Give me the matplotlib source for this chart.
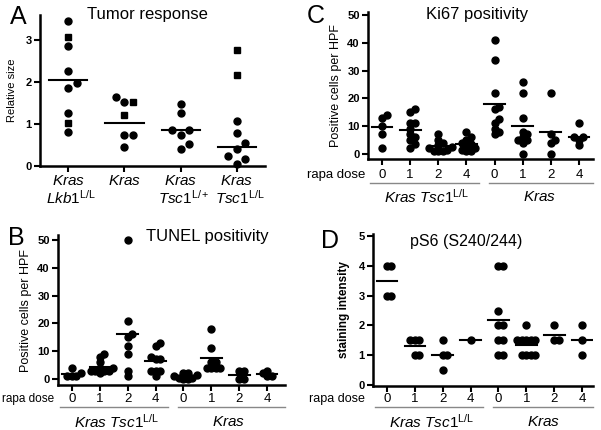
import matplotlib.pyplot as plt
import numpy as np
from matplotlib import transforms as mtrans

plt.rcParams.update({
    'font.family': 'Liberation Sans',
    'mathtext.fontset': 'custom',
    'mathtext.rm': 'Liberation Sans',
    'mathtext.it': 'Liberation Sans:italic',
    'mathtext.bf': 'Liberation Sans:bold',
})

# ---- A: tumor response (relative size), circles and squares per genotype
a_circles = [
    [3.45, 2.87, 2.26, 1.97, 1.85, 1.27, 0.82],
    [1.65, 1.52, 0.74, 0.74, 0.46],
    [1.48, 1.27, 0.87, 0.87, 0.75, 0.52, 0.40],
    [1.07, 0.79, 0.56, 0.40, 0.24, 0.16, 0.05],
]
a_squares = [
    [3.08, 1.03],
    [1.53, 1.21],
    [],
    [2.76, 2.17],
]
a_means = [2.06, 1.02, 0.87, 0.46]

doses = ["0", "1", "2", "4"]

# ---- B: TUNEL positivity (Kras Tsc1 L/L doses 0,1,2,4 then Kras doses 0,1,2,4)
tunel = [
    [4, 2, 1, 1, 1],
    [9, 8, 6, 4, 4, 3, 3, 3, 3, 2],
    [50, 21, 16, 15, 12, 9, 3, 1],
    [13, 12, 8, 7, 7, 3, 3, 3, 1],
    [2, 2, 1.5, 1, 0.5, 0.5, 0, 0],
    [18, 11, 6, 6, 4, 4, 4, 4],
    [3, 3, 0, 0],
    [3, 2, 1, 1],
]
tunel_means = [1.8, 4.4, 16.0, 6.6, 0.8, 7.4, 1.4, 1.8]

# ---- C: Ki67 positivity
ki67 = [
    [14, 13, 10, 7, 2],
    [16, 15, 11, 11, 9, 7, 6, 5, 3.5, 2],
    [7, 5, 4, 3, 2.5, 2, 1.5, 1, 1, 1],
    [8, 6, 5, 4, 3.5, 3, 2, 1.5, 1, 1],
    [41, 34, 22, 17, 16, 12.5, 11, 9, 8, 7],
    [26, 22, 13, 8, 7, 6, 5, 5, 4, 0],
    [22, 7, 5, 4, 0],
    [11, 6, 6, 5, 3],
]
ki67_means = [9.5, 8.6, 2.9, 3.6, 17.9, 10.1, 7.7, 6.2]

# ---- D: pS6 (S240/244) staining intensity
ps6 = [
    [4, 4, 3, 3],
    [1.5, 1.5, 1.5, 1, 1],
    [1.5, 1, 1, 0.5],
    [1.5],
    [4, 4, 2.5, 2, 2, 1.5, 1.5, 1, 1],
    [2, 1.5, 1.5, 1.5, 1.5, 1.5, 1, 1, 1, 1],
    [2, 1.5, 1.5],
    [2, 1.5, 1],
]
ps6_means = [3.5, 1.3, 1.0, 1.5, 2.17, 1.36, 1.67, 1.5]

W, H = 601, 430
fig = plt.figure(figsize=(W / 100, H / 100), dpi=100)


def add_ax(l, t, r, b):
    return fig.add_axes([l / W, 1 - b / H, (r - l) / W, (b - t) / H])


def ftext(x, y, s, **kw):
    kw.setdefault('ha', 'center')
    kw.setdefault('va', 'center')
    fig.text(x / W, 1 - y / H, s, **kw)


def style(ax, yticks, size=8):
    for s in ['top', 'right']:
        ax.spines[s].set_visible(False)
    for s in ['left', 'bottom']:
        ax.spines[s].set_linewidth(1.8)
    ax.tick_params(direction='out', length=4, width=1.5, labelsize=size, pad=2)
    ax.set_yticks(yticks)
    ax.set_yticklabels([str(v) for v in yticks], fontweight='bold')


def swarm(ax, x0, vals, step, mind):
    # simple beeswarm in pixel space so equal values sit side by side
    vals = np.asarray(vals, dtype=float)
    if len(vals) == 0:
        return vals
    ypx = ax.transData.transform(np.column_stack([np.zeros(len(vals)), vals]))[:, 1]
    xpx_unit = ax.transData.transform([(1, 0)])[0, 0] - ax.transData.transform([(0, 0)])[0, 0]
    offs = np.zeros(len(vals))
    placed = []
    for i in np.argsort(ypx):
        for k in [0, 1, -1, 2, -2, 3, -3, 4, -4, 5, -5]:
            ox = k * step
            if all((ox - px) ** 2 + (ypx[i] - py) ** 2 >= mind ** 2 for px, py in placed):
                break
        placed.append((ox, ypx[i]))
        offs[i] = ox
    return x0 + offs / xpx_unit


# ================= Panel A =================
axA = add_ax(40, 15, 265, 166)
axA.set_xlim(-0.5, 3.5)
axA.set_ylim(0, 3.6)
style(axA, [0, 1, 2, 3])
axA.set_xticks(range(4))
axA.set_xticklabels([])
for i in range(4):
    allv = a_circles[i] + a_squares[i]
    xs = swarm(axA, i, allv, 8.5, 8)
    nc = len(a_circles[i])
    axA.plot(xs[:nc], allv[:nc], 'o', color='black', ms=5, clip_on=False)
    if a_squares[i]:
        axA.plot(xs[nc:], allv[nc:], 's', color='black', ms=5, clip_on=False)
    axA.plot([i - 0.34, i + 0.34], [a_means[i]] * 2, color='black', lw=1.5)
axA.set_ylabel("Relative size", fontsize=8, labelpad=6)

tA = mtrans.blended_transform_factory(axA.transData, fig.transFigure)
a_line1 = [r"$\mathit{Kras}$", r"$\mathit{Kras}$", r"$\mathit{Kras}$", r"$\mathit{Kras}$"]
a_line2 = [r"$\mathit{Lkb1}^{\mathrm{L/L}}$", "", r"$\mathit{Tsc1}^{\mathrm{L/+}}$",
           r"$\mathit{Tsc1}^{\mathrm{L/L}}$"]
for i in range(4):
    axA.text(i, 1 - 181 / H, a_line1[i], transform=tA, ha='center', va='center', fontsize=11)
    if a_line2[i]:
        axA.text(i + 0.05, 1 - 198 / H, a_line2[i], transform=tA, ha='center', va='center',
                 fontsize=11)
ftext(18, 17, "A", fontsize=18)
ftext(147, 14, "Tumor response", fontsize=12)


# ================= dose panels =================
def dose_panel(ax, groups, means, ylim, yticks, xr, ylab, ylab_kw, tick_y, line_y, grp_y,
               rapa_x, rapa_size):
    ax.set_xlim(-0.5, xr)
    ax.set_ylim(*ylim)
    style(ax, yticks)
    for i, (vals, m) in enumerate(zip(groups, means)):
        xs = swarm(ax, i, vals, 4.5, 4.5)
        ax.plot(xs, vals, 'o', color='black', ms=5, clip_on=False)
        ax.plot([i - 0.37, i + 0.37], [m, m], color='black', lw=1.5)
    ax.set_xticks(range(8))
    ax.set_xticklabels([])
    tr = mtrans.blended_transform_factory(ax.transData, fig.transFigure)
    for i, d in enumerate(doses * 2):
        ax.text(i, 1 - tick_y / H, d, transform=tr, ha='center', va='center', fontsize=9.5)
    ax.plot([-0.42, 3.45], [1 - line_y / H] * 2, transform=tr, color='#888888', lw=1,
            clip_on=False)
    ax.plot([3.8, xr], [1 - line_y / H] * 2, transform=tr, color='#888888', lw=1,
            clip_on=False)
    ax.text(1.6, 1 - grp_y / H, r"$\mathit{Kras\ Tsc1}^{\mathrm{L/L}}$", transform=tr,
            ha='center', va='center', fontsize=11)
    ax.text(5.6, 1 - grp_y / H, r"$\mathit{Kras}$", transform=tr, ha='center', va='center',
            fontsize=11)
    ftext(rapa_x, tick_y, "rapa dose", ha='right', fontsize=rapa_size)
    ax.set_ylabel(ylab, **ylab_kw)


axB = add_ax(58, 235, 285, 385)
dose_panel(axB, tunel, tunel_means, (-2.2, 51.8), [0, 10, 20, 30, 40, 50], 7.64,
           "Positive cells per HPF", dict(fontsize=9, labelpad=4),
           399, 407, 422, 54, 8.5)
ftext(16, 238, "B", fontsize=18)
ftext(207, 237, "TUNEL positivity", fontsize=12)

axC = add_ax(368, 12, 593, 159)
dose_panel(axC, ki67, ki67_means, (-1.9, 51.2), [0, 10, 20, 30, 40, 50], 7.5,
           "Positive cells per HPF", dict(fontsize=9, labelpad=4),
           175, 183, 197, 365, 9.5)
ftext(316, 16, "C", fontsize=18)
ftext(477, 14, "Ki67 positivity", fontsize=12)

axD = add_ax(373, 234, 593, 386)
dose_panel(axD, ps6, ps6_means, (-0.03, 5.07), [0, 1, 2, 3, 4, 5], 7.39,
           "staining intensity", dict(fontsize=8.5, fontweight='bold', labelpad=6),
           399, 407, 422, 365, 9)
ftext(330, 241, "D", fontsize=18)
ftext(466, 241, "pS6 (S240/244)", fontsize=11.5)

fig.savefig("out.png", dpi=100)
